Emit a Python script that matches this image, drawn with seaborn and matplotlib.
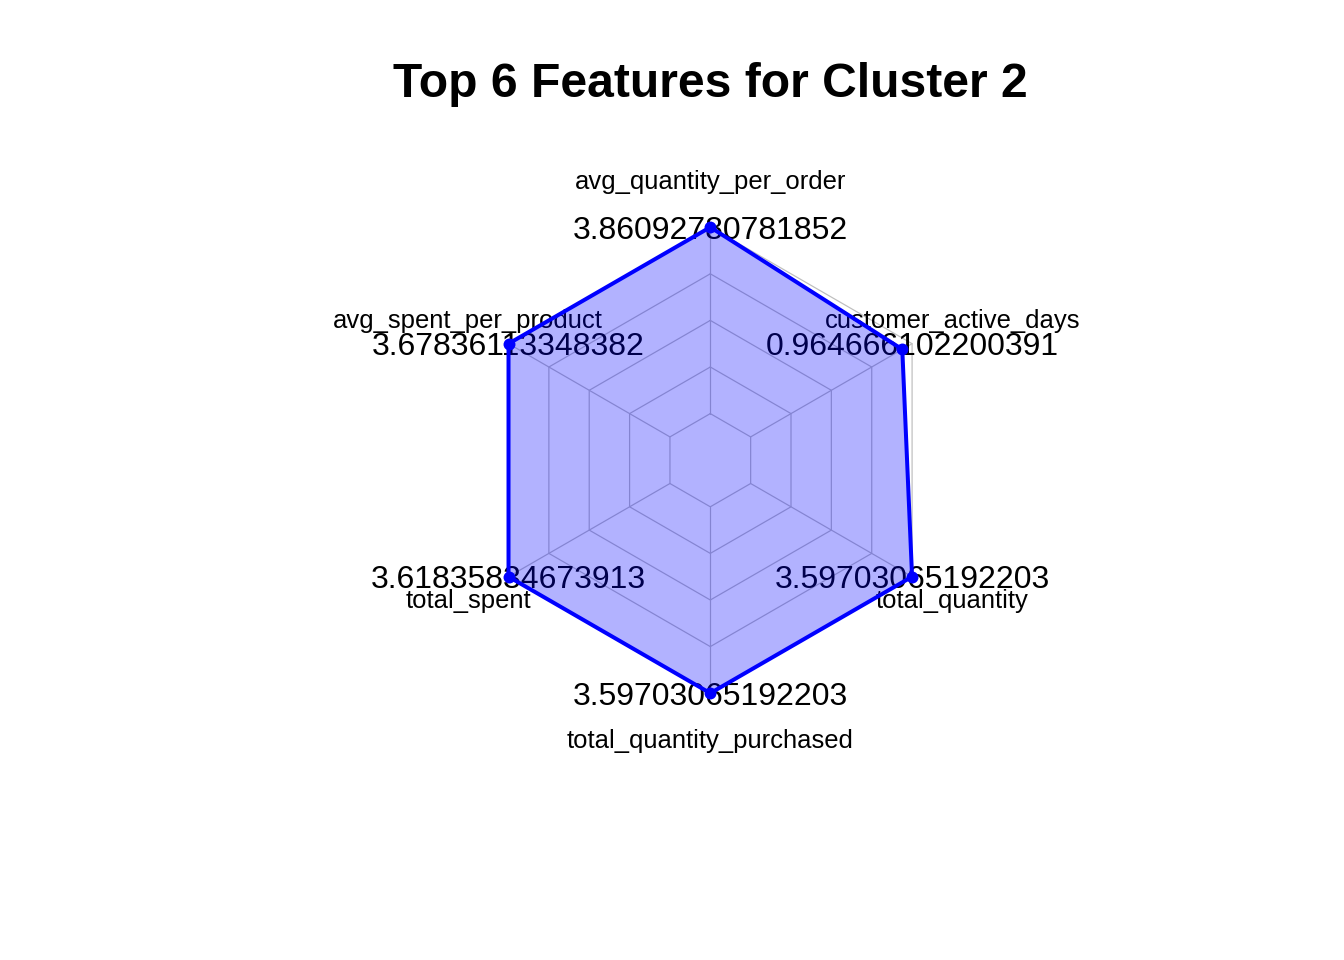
import numpy as np
import pandas as pd
import matplotlib
matplotlib.use("Agg")
import matplotlib.pyplot as plt
import seaborn as sns

# ---- data ----
features = ["avg_quantity_per_order", "avg_spent_per_product", "total_spent",
            "total_quantity_purchased", "total_quantity", "customer_active_days"]
values = [3.86092780781852, 3.67836113348382, 3.61835834673913,
          3.59703065192203, 3.59703065192203, 0.964666102200391]
value_labels = ["3.86092780781852", "3.67836113348382", "3.61835834673913",
                "3.59703065192203", "3.59703065192203", "0.964666102200391"]
axis_min = [0, 0, 0, 0, 0, 0]
axis_max = [3.86092780781852, 3.67836113348382, 3.61835834673913,
            3.59703065192203, 3.59703065192203, 1.027]
title = "Top 6 Features for Cluster 2"

sns.set_theme(style="white")
plt.rcParams["font.family"] = ["Liberation Sans", "DejaVu Sans"]

W, H, DPI = 1344, 960, 192
fig = plt.figure(figsize=(W / DPI, H / DPI), dpi=DPI)
ax = fig.add_axes([0, 0, 1, 1])
R = 233.0
cx, cy = 710.3, 460.2
ax.set_xlim(-cx / R, (W - cx) / R)
ax.set_ylim(-(H - cy) / R, cy / R)
ax.set_axis_off()

n = len(features)
seg = 4
theta = np.deg2rad(90 + 360 * np.arange(n) / n)
ct, st = np.cos(theta), np.sin(theta)

grid_col = "#BEBEBE"
# grid hexagons
for i in range(seg + 1):
    r = (1 + i) / (seg + 1)
    xs = np.append(ct * r, ct[0] * r)
    ys = np.append(st * r, st[0] * r)
    ax.plot(xs, ys, color=grid_col, lw=0.45, zorder=1)
# spokes
r0 = 1 / (seg + 1)
for k in range(n):
    ax.plot([ct[k] * r0, ct[k]], [st[k] * r0, st[k]], color=grid_col, lw=0.45, zorder=1)

# scaled radii
vals = np.array(values, dtype=float)
mn = np.array(axis_min, dtype=float)
mx = np.array(axis_max, dtype=float)
s = (vals - mn) / (mx - mn)
rad = (1 + s * seg) / (seg + 1)
px, py = ct * rad, st * rad

# axis labels
for k in range(n):
    ax.annotate(features[k], (1.2 * ct[k], 1.2 * st[k]), xytext=(0, -3.0),
                textcoords="offset points", ha="center", va="baseline",
                fontsize=9.6, color="black", zorder=2)
# value labels (placed at the outer ring of each axis)
for k in range(n):
    ax.annotate(value_labels[k], (ct[k], st[k]), xytext=(0, -4.25),
                textcoords="offset points", ha="center", va="baseline",
                fontsize=12, color="black", zorder=2)

# polygon
ax.fill(px, py, color=(0, 0, 1, 0.3), lw=0, zorder=3)
poly = pd.DataFrame({"x": np.append(px, px[0]), "y": np.append(py, py[0])})
sns.lineplot(data=poly, x="x", y="y", sort=False, estimator=None, color="blue",
             lw=1.5, ax=ax, zorder=4)
pts = pd.DataFrame({"x": px, "y": py})
sns.scatterplot(data=pts, x="x", y="y", color="blue", s=20, linewidth=0,
                ax=ax, zorder=5)
ax.set_axis_off()

fig.text(710.5 / W, 1 - 96.7 / H, title, ha="center", va="baseline",
         fontsize=18, fontweight="bold", color="black")

fig.savefig("out.png", dpi=DPI, facecolor="white")
